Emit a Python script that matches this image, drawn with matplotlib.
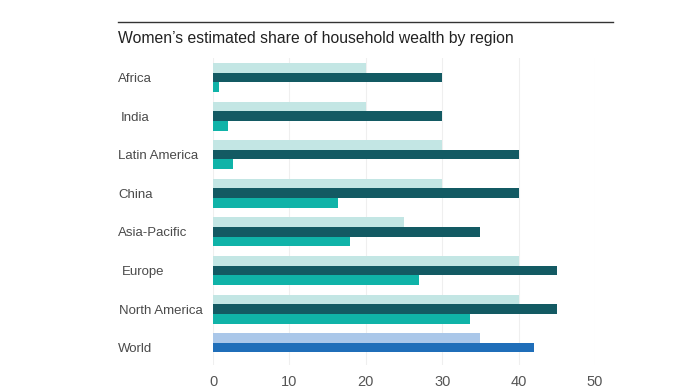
import matplotlib
matplotlib.use("Agg")
import matplotlib.pyplot as plt
import matplotlib.transforms as mtransforms

regions = ["Africa", "India", "Latin America", "China", "Asia-Pacific", "Europe", "North America", "World"]
light_vals = [20, 20, 30, 30, 25, 40, 40, 35]
dark_vals = [30, 30, 40, 40, 35, 45, 45, 42]
teal_vals = [0.8, 1.9, 2.6, 16.4, 17.9, 27, 33.6, None]
xticks = [0, 10, 20, 30, 40, 50]

plt.rcParams['font.family'] = ['Liberation Sans', 'DejaVu Sans']

W, H = 699, 392
fig = plt.figure(figsize=(W / 100, H / 100), dpi=100)
ax = fig.add_axes([213 / W, 1 - 365 / H, (595 - 213) / W, (365 - 58) / H])

c_light = "#c3e6e4"
c_dark = "#135a63"
c_teal = "#10b3a8"
c_wlight = "#aac7e9"
c_wdark = "#1f6eb9"

h = 0.25
for i, r in enumerate(regions):
    world = (r == "World")
    ax.barh(i - h, light_vals[i], height=h, color=c_wlight if world else c_light, zorder=2)
    ax.barh(i, dark_vals[i], height=h, color=c_wdark if world else c_dark, zorder=2)
    if teal_vals[i] is not None:
        ax.barh(i + h, teal_vals[i], height=h, color=c_teal, zorder=2)

ax.set_xlim(0, 50)
ax.set_ylim(7.45, -0.505)
ax.set_xticks(xticks)
ax.set_xticklabels([str(t) for t in xticks])
ax.tick_params(axis='x', length=0, pad=7.5, labelsize=10.5, labelcolor="#555555")
ax.set_yticks([])
for s in ax.spines.values():
    s.set_visible(False)
ax.grid(axis='x', color="#efefef", linewidth=0.8, zorder=0)
ax.set_axisbelow(True)

trans = mtransforms.blended_transform_factory(fig.transFigure, ax.transData)
label_x = [118, 121, 118, 118, 118, 122, 119, 118]
for i, r in enumerate(regions):
    ax.text(label_x[i] / W, i, r, transform=trans, ha='left', va='center_baseline',
            fontsize=9.5, color="#4a4a4a")

fig.add_artist(plt.Line2D([118 / W, 613 / W], [1 - 22 / H, 1 - 22 / H],
                          transform=fig.transFigure, color="#333333", linewidth=1))
fig.text(118 / W, 1 - 38 / H, "Women’s estimated share of household wealth by region",
         ha='left', va='center', fontsize=11.3, color="#222222")

fig.savefig("out.png", dpi=100)
